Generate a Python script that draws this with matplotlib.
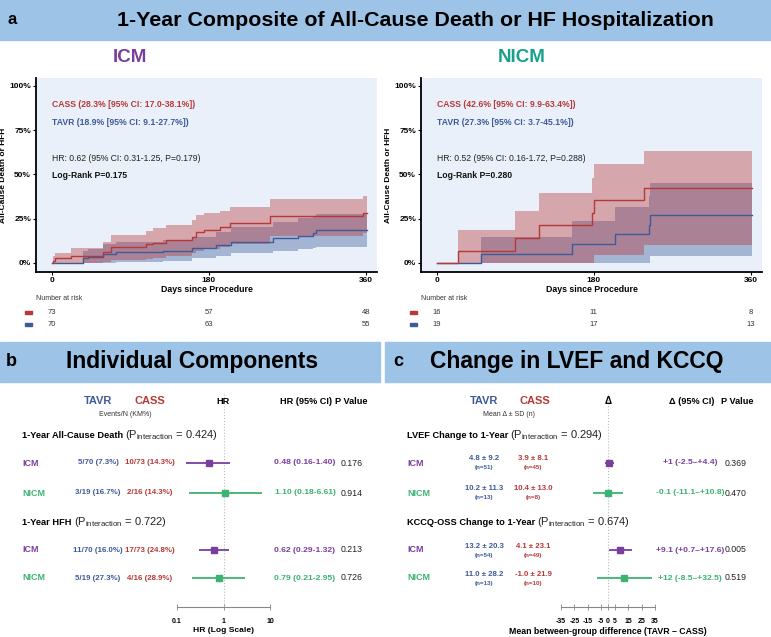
import matplotlib
matplotlib.use("Agg")
import matplotlib.pyplot as plt
import matplotlib.transforms as mtransforms
from matplotlib.patches import Rectangle

plt.rcParams['font.family'] = ['Liberation Sans', 'DejaVu Sans']
plt.rcParams['mathtext.fontset'] = 'custom'
plt.rcParams['mathtext.rm'] = 'Liberation Sans'
plt.rcParams['mathtext.bf'] = 'Liberation Sans:bold'
plt.rcParams['mathtext.it'] = 'Liberation Sans:italic'
plt.rcParams['axes.unicode_minus'] = False

# ---- KM data: cumulative incidence (%) at event days, with 95% CI ----
icm_cass_day = [0, 1.5, 4, 22.6, 58.8, 68.4, 107.8, 116, 131.5, 161, 165, 175, 192.6, 204, 250, 357]
icm_cass_pct = [0, 1.1, 2.6, 3.9, 6.4, 9.2, 10.5, 11.5, 13.0, 14.9, 17.7, 18.6, 20.5, 22.4, 26.7, 28.3]
icm_cass_lo = [0, 0, 0, 0, 0.5, 1.7, 2.2, 3.0, 4.0, 5.6, 7.0, 8.0, 9.2, 10.5, 15.5, 17.0]
icm_cass_hi = [0, 4.0, 5.8, 8.3, 12.0, 16.0, 18.3, 20.0, 21.5, 24.3, 27.0, 28.0, 29.5, 31.4, 36.0, 38.1]

icm_tavr_day = [0, 36, 41.7, 58.9, 74.1, 127.6, 161.3, 188.8, 206, 253.8, 282.4, 299.6, 303.4]
icm_tavr_pct = [0, 2.6, 3.5, 4.9, 6.0, 6.8, 8.3, 10.2, 12.0, 13.9, 15.3, 17.1, 18.9]
icm_tavr_lo = [0, 0, 0, 0, 0.5, 1.2, 2.6, 4.0, 5.5, 7.0, 7.8, 8.5, 9.1]
icm_tavr_hi = [0, 6.5, 8.0, 10.7, 12.0, 13.0, 14.9, 17.7, 20.5, 23.4, 25.2, 26.5, 27.7]

nicm_cass_day = [0, 24, 89.4, 117, 178, 180, 237.7]
nicm_cass_pct = [0, 6.6, 14.1, 21.3, 28.3, 35.4, 42.6]
nicm_cass_lo = [0, 0, 0, 0, 0, 4.7, 9.9]
nicm_cass_hi = [0, 18.4, 29.5, 39.5, 48.0, 55.9, 63.4]

nicm_tavr_day = [0, 50.5, 155, 205, 243, 245]
nicm_tavr_pct = [0, 5.3, 10.7, 16.2, 21.6, 27.3]
nicm_tavr_lo = [0, 0, 0, 0, 0, 3.7]
nicm_tavr_hi = [0, 14.7, 23.5, 31.4, 38.0, 45.1]

last_day = 361

icm_notes = ['CASS (28.3% [95% CI: 17.0-38.1%])', 'TAVR (18.9% [95% CI: 9.1-27.7%])',
             'HR: 0.62 (95% CI: 0.31-1.25, P=0.179)', 'Log-Rank P=0.175']
nicm_notes = ['CASS (42.6% [95% CI: 9.9-63.4%])', 'TAVR (27.3% [95% CI: 3.7-45.1%])',
              'HR: 0.52 (95% CI: 0.16-1.72, P=0.288)', 'Log-Rank P=0.280']

risk_days = [0, 180, 360]
icm_risk_cass = [73, 57, 48]
icm_risk_tavr = [70, 63, 55]
nicm_risk_cass = [16, 11, 8]
nicm_risk_tavr = [19, 17, 13]

# ---- forest b: events and hazard ratios ----
groups = ['ICM', 'NICM', 'ICM', 'NICM']
b_sections = ['1-Year All-Cause Death', '1-Year HFH']
b_pint = ['0.424', '0.722']
b_tavr = ['5/70 (7.3%)', '3/19 (16.7%)', '11/70 (16.0%)', '5/19 (27.3%)']
b_cass = ['10/73 (14.3%)', '2/16 (14.3%)', '17/73 (24.8%)', '4/16 (28.9%)']
b_hr = [0.48, 1.10, 0.62, 0.79]
b_lo = [0.16, 0.18, 0.29, 0.21]
b_hi = [1.40, 6.61, 1.32, 2.95]
b_p = ['0.176', '0.914', '0.213', '0.726']

# ---- forest c: change in LVEF and KCCQ ----
c_sections = ['LVEF Change to 1-Year', 'KCCQ-OSS Change to 1-Year']
c_pint = ['0.294', '0.674']
c_tavr = ['4.8 ± 9.2', '10.2 ± 11.3', '13.2 ± 20.3', '11.0 ± 28.2']
c_tavr_n = ['(n=51)', '(n=13)', '(n=54)', '(n=13)']
c_cass = ['3.9 ± 8.1', '10.4 ± 13.0', '4.1 ± 23.1', '-1.0 ± 21.9']
c_cass_n = ['(n=45)', '(n=8)', '(n=49)', '(n=10)']
c_d = [1, -0.1, 9.1, 12]
c_lo = [-2.5, -11.1, 0.7, -8.5]
c_hi = [4.4, 10.8, 17.6, 32.5]
c_p = ['0.369', '0.470', '0.005', '0.519']

RED = '#B73838'
BLUE = '#3D5A99'
PURPLE = '#7A3E9D'
TEAL = '#17A08C'
GREEN = '#3CB371'
HEAD = '#9DC3E6'
grp_col = {'ICM': PURPLE, 'NICM': GREEN}

W, H = 771, 637
fig = plt.figure(figsize=(W / 100, H / 100), dpi=100)


def fx(x):
    return x / W


def fy(y):
    return 1 - y / H


def put(x, y, s, **kw):
    kw.setdefault('ha', 'center')
    kw.setdefault('va', 'center')
    return fig.text(fx(x), fy(y), s, **kw)


def band(x0, x1, y0, y1):
    fig.add_artist(Rectangle((fx(x0), fy(y1)), (x1 - x0) / W, (y1 - y0) / H,
                             transform=fig.transFigure, color=HEAD, zorder=0))


# headers
band(0, W, 0, 40)
put(12, 20, 'a', fontsize=12, weight='bold')
put(415, 20, '1-Year Composite of All-Cause Death or HF Hospitalization',
    fontsize=15.4, weight='bold')
put(130, 58, 'ICM', fontsize=13.5, weight='bold', color=PURPLE)
put(522, 58, 'NICM', fontsize=13.5, weight='bold', color=TEAL)


def km_panel(left, cass, tavr, notes, risk_cass, risk_tavr):
    ax = fig.add_axes([fx(left), fy(272), 341 / W, 194 / H])
    ax.set_facecolor('#EAF0FA')
    for (d, p, lo, hi), col in ((tavr, BLUE), (cass, RED)):
        t = d + [last_day]
        ax.fill_between(t, lo + [lo[-1]], hi + [hi[-1]], step='post',
                        color=col, alpha=0.4, lw=0)
    for (d, p, lo, hi), col in ((tavr, BLUE), (cass, RED)):
        ax.step(d + [last_day], p + [p[-1]], where='post', color=col, lw=1)
    ax.set_xlim(-18, 373)
    ax.set_ylim(-5.1, 104.5)
    ax.set_xticks(risk_days)
    ax.set_yticks([0, 25, 50, 75, 100])
    ax.set_yticklabels(['0%', '25%', '50%', '75%', '100%'])
    for s in ('top', 'right'):
        ax.spines[s].set_visible(False)
    for s in ('left', 'bottom'):
        ax.spines[s].set_linewidth(1.3)
    ax.tick_params(length=2, width=0.8, labelsize=6, pad=1.5)
    for lab in ax.get_xticklabels() + ax.get_yticklabels():
        lab.set_fontweight('bold')
    ax.set_xlabel('Days since Procedure', fontsize=6.3, weight='bold', labelpad=0.5)
    ax.set_ylabel('All-Cause Death or HFH', fontsize=6, weight='bold', labelpad=2)
    for txt, yv, col, wt in zip(notes, [89.8, 79.1, 59.3, 49.2],
                                [RED, BLUE, '#222222', '#111111'],
                                ['bold', 'bold', 'normal', 'bold']):
        ax.text(0, yv, txt, color=col, fontsize=6.2, weight=wt, va='center', ha='left')
    # number at risk
    tr = mtransforms.blended_transform_factory(ax.transData, fig.transFigure)
    put(left, 298, 'Number at risk', ha='left', fontsize=5, color='#333333')
    for yy, vals, col in ((312, risk_cass, RED), (324, risk_tavr, BLUE)):
        fig.add_artist(Rectangle((fx(left - 11), fy(yy + 1.5)), 7 / W, 3 / H,
                                 transform=fig.transFigure, color=col))
        for d, v in zip(risk_days, vals):
            fig.text(d, fy(yy), str(v), transform=tr, ha='center', va='center',
                     fontsize=5.5, color='#333333')
    return ax


km_panel(36, (icm_cass_day, icm_cass_pct, icm_cass_lo, icm_cass_hi),
         (icm_tavr_day, icm_tavr_pct, icm_tavr_lo, icm_tavr_hi),
         icm_notes, icm_risk_cass, icm_risk_tavr)
km_panel(421, (nicm_cass_day, nicm_cass_pct, nicm_cass_lo, nicm_cass_hi),
         (nicm_tavr_day, nicm_tavr_pct, nicm_tavr_lo, nicm_tavr_hi),
         nicm_notes, nicm_risk_cass, nicm_risk_tavr)

# ---- lower panels ----
band(0, 380, 342, 382)
band(385, W, 342, 382)
put(11, 362, 'b', fontsize=13, weight='bold')
put(192, 362, 'Individual Components', fontsize=16.5, weight='bold')
put(398, 362, 'c', fontsize=13, weight='bold')
put(577, 362, 'Change in LVEF and KCCQ', fontsize=16.5, weight='bold')

row_y = [463, 493, 550, 578]
sec_y = [435, 522]
renderer = fig.canvas.get_renderer()


def section(x, y, label, pint):
    t = put(x, y, label, ha='left', va='baseline', fontsize=6.7, weight='bold')
    bb = t.get_window_extent(renderer)
    put(bb.x1 + 2, y, r'(P$_{\mathregular{interaction}}$ = ' + pint + ')',
        ha='left', va='baseline', fontsize=8, color='#222222')


def forest_axis(x0, x1, xlim):
    ax = fig.add_axes([fx(x0), fy(607), (x1 - x0) / W, (607 - 393) / H])
    ax.set_xlim(*xlim)
    ax.set_ylim(607, 393)
    ax.patch.set_visible(False)
    for s in ('top', 'right', 'left'):
        ax.spines[s].set_visible(False)
    ax.spines['bottom'].set_color('#888888')
    ax.spines['bottom'].set_linewidth(0.8)
    ax.set_yticks([])
    ax.tick_params(axis='x', direction='inout', length=4, width=0.6, color='#888888',
                   labelsize=5, pad=6)
    return ax


# panel b
axb = forest_axis(177, 270, (0.1, 10))
axb.set_xscale('log')
axb.set_xticks([0.1, 1, 10])
axb.set_xticklabels(['0.1', '1', '10'])
axb.minorticks_off()
for lab in axb.get_xticklabels():
    lab.set_fontweight('bold')
axb.set_xlabel('HR (Log Scale)', fontsize=6.1, weight='bold', labelpad=1)
axb.axvline(1, color='#BBBBBB', ls=':', lw=0.8)
for i, y in enumerate(row_y):
    col = grp_col[groups[i]]
    axb.hlines(y, b_lo[i], b_hi[i], color=col, lw=1.3, clip_on=False)
    axb.plot(b_hr[i], y, marker='s', ms=5, color=col, clip_on=False)
    put(22, y, groups[i], ha='left', fontsize=6.5, weight='bold', color=col)
    put(98, y, b_tavr[i], fontsize=5.7, weight='bold', color=BLUE)
    put(150, y, b_cass[i], fontsize=5.7, weight='bold', color=RED)
    put(305, y, '%.2f (%.2f-%.2f)' % (b_hr[i], b_lo[i], b_hi[i]),
        fontsize=6.1, weight='bold', color=col)
    put(341, y, b_p[i], ha='left', fontsize=6.3, color='#222222')
put(98, 401, 'TAVR', fontsize=8, weight='bold', color=BLUE)
put(150, 401, 'CASS', fontsize=8, weight='bold', color=RED)
put(223, 401, 'HR', fontsize=6.6, weight='bold')
put(306, 401, 'HR (95% CI)', fontsize=6.6, weight='bold')
put(351, 401, 'P Value', fontsize=6.6, weight='bold')
put(125, 415, 'Events/N (KM%)', fontsize=5, color='#333333')
for y, lab, pv in zip(sec_y, b_sections, b_pint):
    section(22, y + 3, lab, pv)

# panel c
axc = forest_axis(561, 655, (-35, 35))
axc.set_xticks([-35, -25, -15, -5, 0, 5, 15, 25, 35])
for lab in axc.get_xticklabels():
    lab.set_fontweight('bold')
axc.set_xlabel('Mean between-group difference (TAVR – CASS)', fontsize=6.3,
               weight='bold', labelpad=1)
axc.axvline(0, color='#BBBBBB', ls=':', lw=0.8)
for i, y in enumerate(row_y):
    col = grp_col[groups[i]]
    axc.hlines(y, c_lo[i], c_hi[i], color=col, lw=1.3, clip_on=False)
    axc.plot(c_d[i], y, marker='s', ms=5, color=col, clip_on=False)
    put(407, y, groups[i], ha='left', fontsize=6.5, weight='bold', color=col)
    put(484, y - 4, c_tavr[i], fontsize=5.6, weight='bold', color=BLUE)
    put(484, y + 5, c_tavr_n[i], fontsize=4.5, weight='bold', color=BLUE)
    put(533, y - 4, c_cass[i], fontsize=5.6, weight='bold', color=RED)
    put(533, y + 5, c_cass_n[i], fontsize=4.5, weight='bold', color=RED)
    ci = '%s (%s–%s)' % (format(c_d[i], '+g'), format(c_lo[i], '+g'), format(c_hi[i], '+g'))
    put(690, y, ci, fontsize=6.1, weight='bold', color=col)
    put(725, y, c_p[i], ha='left', fontsize=6.3, color='#222222')
put(484, 401, 'TAVR', fontsize=8, weight='bold', color=BLUE)
put(535, 401, 'CASS', fontsize=8, weight='bold', color=RED)
put(608, 401, 'Δ', fontsize=7, weight='bold')
put(692, 401, 'Δ (95% CI)', fontsize=6.6, weight='bold')
put(737, 401, 'P Value', fontsize=6.6, weight='bold')
put(509, 415, 'Mean Δ ± SD (n)', fontsize=5, color='#333333')
for y, lab, pv in zip(sec_y, c_sections, c_pint):
    section(407, y + 3, lab, pv)

fig.savefig('out.png', dpi=100)
